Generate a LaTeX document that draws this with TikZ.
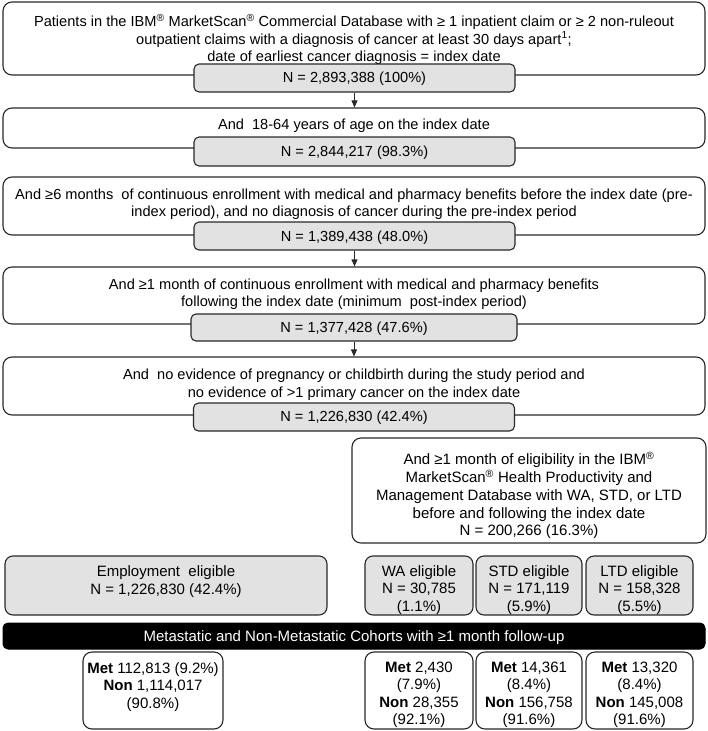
\documentclass[tikz,border=0pt]{standalone}
\usepackage{fontspec}
\setmainfont{Liberation Sans}
\usetikzlibrary{arrows.meta}
\definecolor{boxgray}{RGB}{226,226,226}
\definecolor{edge}{RGB}{40,40,40}
\begin{document}
\begin{tikzpicture}[x=1pt,y=-1pt,
  frame/.style={draw=edge,line width=1.1pt,rounded corners=9pt,fill=white,inner sep=0pt},
  nbox/.style={draw=edge,line width=1.1pt,rounded corners=5pt,fill=boxgray,inner sep=0pt},
  gbox/.style={draw=edge,line width=1.1pt,rounded corners=8pt,fill=boxgray,inner sep=0pt},
  bar/.style={draw=black,line width=1pt,rounded corners=5pt,fill=black,inner sep=0pt},
  txt/.style={align=center,inner sep=0pt,font=\fontsize{15}{17.5}\selectfont},
  ttxt/.style={align=center,inner sep=0pt,font=\fontsize{14.6}{17.5}\selectfont},
  arr/.style={-{Triangle[length=7pt,width=6pt]},line width=0.8pt,draw=edge}]
\useasboundingbox (0,0) rectangle (708,731);

% main chain boxes
\node[frame,minimum width=702pt,minimum height=73pt] (b1) at (354,38.5) {};
\node[ttxt] (t1) at (354,39.5) {Patients in the IBM\textsuperscript{®} MarketScan\textsuperscript{®} Commercial Database with ≥ 1 inpatient claim or ≥ 2 non-ruleout\\
outpatient claims with a diagnosis of cancer at least 30 days apart\textsuperscript{1};\\
date of earliest cancer diagnosis = index date};
\node[nbox,minimum width=321pt,minimum height=28pt] (n1) at (354.5,78) {};
\node[ttxt] (tn1) at (354.5,79) {N = 2,893,388 (100\%)};

\node[frame,minimum width=702pt,minimum height=40pt] (b2) at (354,128) {};
\node[ttxt] (t2) at (354,125.5) {And\ \ 18-64 years of age on the index date};
\node[nbox,minimum width=321pt,minimum height=29pt] (n2) at (354.5,151.5) {};
\node[ttxt] (tn2) at (354.5,152.5) {N = 2,844,217 (98.3\%)};

\node[frame,minimum width=702pt,minimum height=58pt] (b3) at (354,206) {};
\node[ttxt] (t3) at (354,204) {And ≥6 months\ \ of continuous enrollment with medical and pharmacy benefits before the index date (pre-\\
index period), and no diagnosis of cancer during the pre-index period};
\node[nbox,minimum width=321pt,minimum height=28pt] (n3) at (354.5,236) {};
\node[ttxt] (tn3) at (354.5,237.5) {N = 1,389,438 (48.0\%)};

\node[frame,minimum width=702pt,minimum height=57pt] (b4) at (354,295.5) {};
\node[ttxt] (t4) at (354,294) {And ≥1 month of continuous enrollment with medical and pharmacy benefits\\
following the index date (minimum\ \ post-index period)};
\node[nbox,minimum width=326pt,minimum height=27pt] (n4) at (354,327.5) {};
\node[ttxt] (tn4) at (354,329) {N = 1,377,428 (47.6\%)};

\node[frame,minimum width=702pt,minimum height=58pt] (b5) at (354,386) {};
\node[ttxt] (t5) at (354,384.5) {And\ \ no evidence of pregnancy or childbirth during the study period and\\
no evidence of >1 primary cancer on the index date};
\node[nbox,minimum width=321pt,minimum height=28pt] (n5) at (354,417) {};
\node[ttxt] (tn5) at (354,418) {N = 1,226,830 (42.4\%)};

\draw[arr] (n1.south) -- (n1.south |- b2.north);
\draw[arr] (n3.south) -- (n3.south |- b4.north);
\draw[arr] (n4.south) -- (n4.south |- b5.north);

% HPM box
\node[frame,minimum width=354pt,minimum height=105pt] (hpm) at (529,490.5) {};
\node[txt,font=\fontsize{15}{17.8}\selectfont] (thpm) at (529,495.5) {And ≥1 month of eligibility in the IBM\textsuperscript{®}\\
MarketScan\textsuperscript{®} Health Productivity and\\
Management Database with WA, STD, or LTD\\
before and following the index date\\
N = 200,266 (16.3\%)};

% eligibility boxes
\node[gbox,minimum width=322pt,minimum height=59pt] (emp) at (166,585.5) {};
\node[txt] (temp) at (166,581.5) {Employment\ \ eligible\\N = 1,226,830 (42.4\%)};
\node[gbox,minimum width=108pt,minimum height=59pt] (wa) at (419,585.5) {};
\node[txt] (twa) at (419,590) {WA eligible\\N = 30,785\\(1.1\%)};
\node[gbox,minimum width=106pt,minimum height=59pt] (std) at (529,585.5) {};
\node[txt] (tstd) at (529,590) {STD eligible\\N = 171,119\\(5.9\%)};
\node[gbox,minimum width=107pt,minimum height=59pt] (ltd) at (639.5,585.5) {};
\node[txt] (tltd) at (639.5,590) {LTD eligible\\N = 158,328\\(5.5\%)};

% black bar
\node[bar,minimum width=702pt,minimum height=26pt] (cohort) at (354,636) {};
\node[txt,text=white] (tcohort) at (354,638) {Metastatic and Non-Metastatic Cohorts with ≥1 month follow-up};

% cohort boxes
\node[frame,minimum width=140pt,minimum height=77pt] (m1) at (153,690.5) {};
\node[txt] (tm1) at (153,687) {\textbf{Met} 112,813 (9.2\%)\\\textbf{Non} 1,114,017\\(90.8\%)};
\node[frame,minimum width=108pt,minimum height=77pt] (m2) at (419,690.5) {};
\node[txt] (tm2) at (419,695) {\textbf{Met} 2,430\\(7.9\%)\\\textbf{Non} 28,355\\(92.1\%)};
\node[frame,minimum width=106pt,minimum height=77pt] (m3) at (529,690.5) {};
\node[txt] (tm3) at (529,695) {\textbf{Met} 14,361\\(8.4\%)\\\textbf{Non} 156,758\\(91.6\%)};
\node[frame,minimum width=107pt,minimum height=77pt] (m4) at (639.5,690.5) {};
\node[txt] (tm4) at (639.5,695) {\textbf{Met} 13,320\\(8.4\%)\\\textbf{Non} 145,008\\(91.6\%)};
\end{tikzpicture}
\end{document}
